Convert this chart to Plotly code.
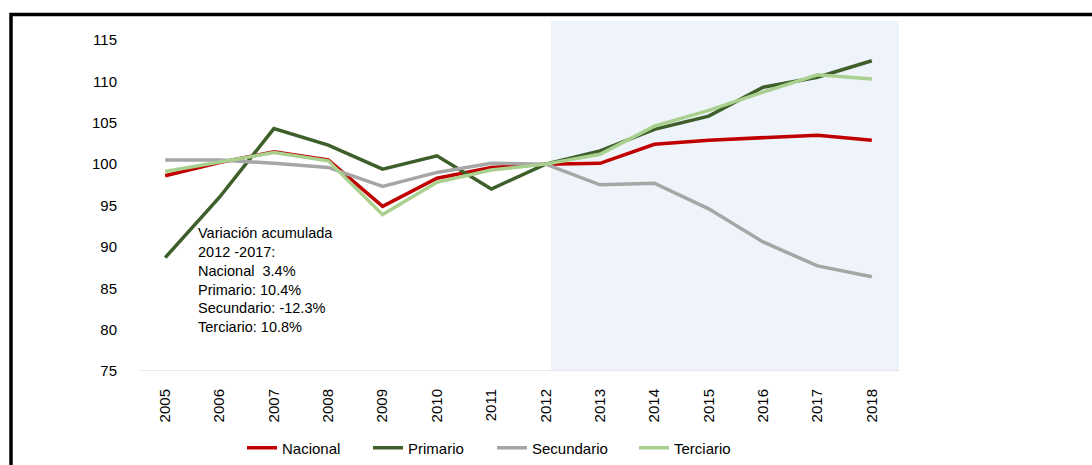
import plotly.graph_objects as go

years = [str(y) for y in range(2005, 2019)]
nacional = [98.6, 100.2, 101.5, 100.5, 94.9, 98.3, 99.6, 100.0, 100.1, 102.4, 102.9, 103.2, 103.5, 102.9]
primario = [88.7, 96.0, 104.3, 102.3, 99.4, 101.0, 97.0, 100.0, 101.6, 104.2, 105.8, 109.3, 110.5, 112.5]
secundario = [100.5, 100.5, 100.1, 99.6, 97.3, 99.0, 100.1, 100.0, 97.5, 97.7, 94.6, 90.6, 87.7, 86.4]
terciario = [99.1, 100.3, 101.4, 100.4, 93.9, 97.8, 99.3, 100.0, 101.2, 104.6, 106.5, 108.7, 110.8, 110.3]
y_ticks = [75, 80, 85, 90, 95, 100, 105, 110, 115]

series = [
    ("Nacional", nacional, "#C00000"),
    ("Primario", primario, "#3E5F2A"),
    ("Secundario", secundario, "#A6A6A6"),
    ("Terciario", terciario, "#A9D08E"),
]
legend_px = [242, 368, 492, 634]

W, H = 1092, 465
ml, mr, mt, mb = 138, 193, 21, 94
pw, ph = W - ml - mr, H - mt - mb

def px_x(p):
    return (p - ml) / pw

def px_y(p):
    return (H - mb - p) / ph

fig = go.Figure()
legend_cfg = {}
for i, (name, vals, col) in enumerate(series):
    lname = "legend" if i == 0 else f"legend{i + 1}"
    fig.add_trace(go.Scatter(x=years, y=vals, name=name, mode="lines",
                             line=dict(color=col, width=3.5), legend=lname))
    legend_cfg[lname] = dict(
        orientation="h", xref="container", yref="container",
        x=legend_px[i] / W, xanchor="left", y=1 - 448 / H, yanchor="middle",
        font=dict(size=15, family="Liberation Sans, Arial, sans-serif"),
        bgcolor="rgba(0,0,0,0)", borderwidth=0,
    )

fig.update_layout(
    width=W, height=H,
    margin=dict(l=ml, r=mr, t=mt, b=mb),
    paper_bgcolor="white", plot_bgcolor="white",
    font=dict(family="Liberation Sans, Arial, sans-serif", size=15, color="#000000"),
    showlegend=True,
    xaxis=dict(type="category", range=[-0.5, 13.5], showgrid=False, showline=False,
               zeroline=False, tickangle=-90, ticks="", ticklabelstandoff=14,
               tickfont=dict(size=15), automargin=False),
    yaxis=dict(range=[75, 117.3], tickvals=y_ticks, showgrid=False, zeroline=False,
               showline=False, ticks="", ticklabelstandoff=20, tickfont=dict(size=15),
               automargin=False),
    shapes=[
        dict(type="rect", xref="x", yref="paper", x0=7.1, x1=13.5, y0=0, y1=1,
             fillcolor="#EFF3FA", line=dict(width=0), layer="below"),
        dict(type="line", xref="paper", yref="y", x0=0, x1=1, y0=75, y1=75,
             line=dict(color="#D9D9D9", width=1.2), layer="below"),
        dict(type="rect", xref="paper", yref="paper",
             x0=px_x(11), x1=px_x(1110), y0=px_y(14.5), y1=px_y(490),
             line=dict(color="#000000", width=3.5), fillcolor="rgba(0,0,0,0)"),
    ],
    annotations=[
        dict(xref="paper", yref="paper", x=px_x(196), y=px_y(223), xanchor="left",
             yanchor="top", align="left", showarrow=False,
             font=dict(size=14.5, color="#000000"),
             text="Variación acumulada<br>2012 -2017:<br>Nacional  3.4%<br>Primario: 10.4%<br>Secundario: -12.3%<br>Terciario: 10.8%"),
    ],
)
fig.update_layout(**legend_cfg)

fig.write_html("out.html")
